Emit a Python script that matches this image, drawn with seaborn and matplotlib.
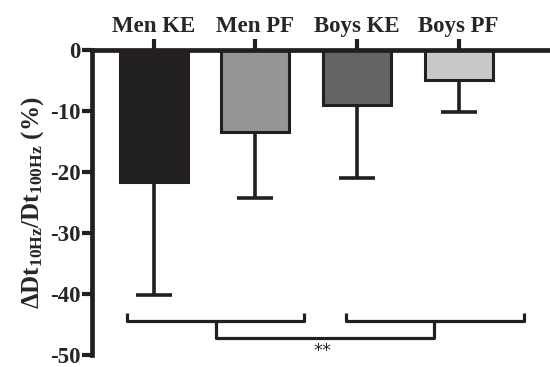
import matplotlib
matplotlib.use("Agg")
import matplotlib.pyplot as plt
import pandas as pd
import seaborn as sns

groups = ["Men KE", "Men PF", "Boys KE", "Boys PF"]
means = [-21.6, -13.5, -9.1, -5.0]
err_low = [18.6, 10.7, 11.9, 5.2]
colors = ["#231f20", "#939598", "#636466", "#c7c8ca"]
yticks = [0, -10, -20, -30, -40, -50]

sns.set_style("ticks")
plt.rcParams["font.family"] = ["Liberation Serif", "DejaVu Serif"]
plt.rcParams["font.weight"] = "bold"
plt.rcParams["mathtext.fontset"] = "custom"
plt.rcParams["mathtext.rm"] = "Liberation Serif:bold"
plt.rcParams["mathtext.it"] = "Liberation Serif:bold"
plt.rcParams["mathtext.bf"] = "Liberation Serif:bold"

df = pd.DataFrame({"group": groups, "value": means})

fig = plt.figure(figsize=(5.5, 3.67), dpi=100)
ax = fig.add_axes([0.167, 0.033, 0.833, 0.831])

sns.barplot(data=df, x="group", y="value", hue="group", palette=colors,
            legend=False, width=0.67, edgecolor="#231f20", linewidth=2.2,
            ax=ax, zorder=2)
ax.errorbar(range(len(groups)), means, yerr=[err_low, [0] * len(groups)],
            fmt="none", ecolor="#231f20", elinewidth=2.6, capsize=13.3,
            capthick=2.6, zorder=1)

ax.set_ylim(-50, 0)
ax.set_xlim(-0.61, 3.9)
ax.set_yticks(yticks)
ax.set_yticklabels([str(t) for t in yticks])
ax.xaxis.tick_top()
ax.set_xlabel("")
ax.set_ylabel(r"$\Delta$Dt$_{10Hz}$/Dt$_{100Hz}$ (%)", fontsize=18,
              fontweight="bold", labelpad=3)
for s in ["bottom", "right"]:
    ax.spines[s].set_visible(False)
for s in ["top", "left"]:
    ax.spines[s].set_linewidth(3.4)
    ax.spines[s].set_color("#231f20")
ax.tick_params(axis="both", width=3.0, length=8, labelsize=16.5,
               color="#231f20")
ax.tick_params(axis="y", length=7, pad=1)
ax.tick_params(axis="x", pad=1)

# significance brackets
kw = dict(color="#231f20", lw=2.3, clip_on=False, solid_capstyle="butt")
ax.plot([-0.26, -0.26, 1.48, 1.48], [-43.2, -44.4, -44.4, -43.2], **kw)
ax.plot([1.89, 1.89, 3.64, 3.64], [-43.2, -44.4, -44.4, -43.2], **kw)
ax.plot([0.61, 0.61, 2.76, 2.76], [-44.4, -47.2, -47.2, -44.4], **kw)
ax.text(1.66, -49.3, "**", ha="center", va="center", fontsize=13,
        fontweight="normal", family="DejaVu Sans", clip_on=False)

fig.savefig("out.png", dpi=100)
